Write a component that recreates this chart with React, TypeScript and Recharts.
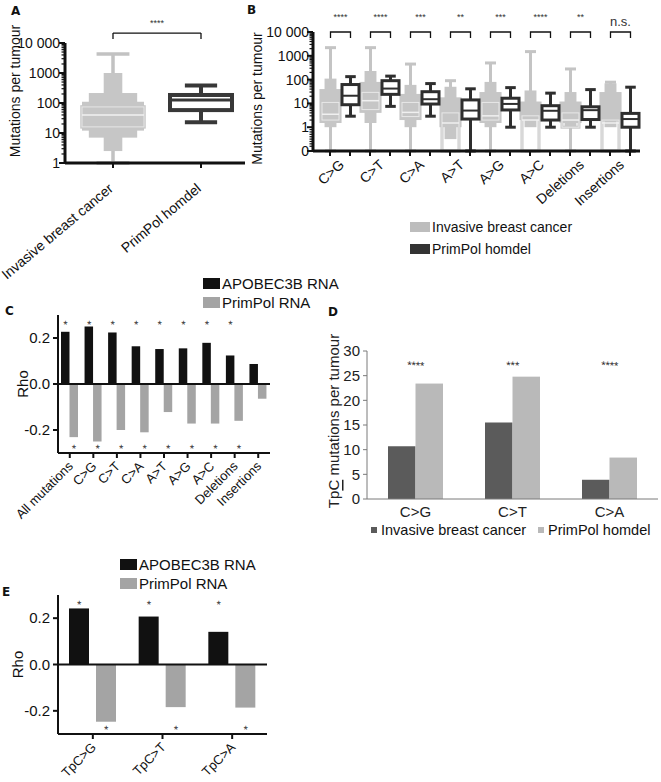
import React from 'react';
import { BarChart, ComposedChart, Bar, XAxis, YAxis, ReferenceLine, Legend } from 'recharts';

const FONT = '"Liberation Sans", Arial, Helvetica, sans-serif';
const INK = '#111111';

// ---------- A: mutations per tumour ----------
const aGroups = ['Invasive breast cancer', 'PrimPol homdel'];
const aMin = [1, 23];
const aQ1 = [16, 58];
const aMed = [40, 126];
const aQ3 = [74, 185];
const aMax = [4300, 380];
// ranges covered by the individual tumour dots (dense, mid, thin)
const aDense = [[12, 110], null];
const aMid = [[7, 215], null];
const aThin = [[2.5, 1000], null];
const aSig = '****';
const aTickLabels = ['1', '10', '100', '1000', '10 000'];

// ---------- B: per mutation type ----------
const bCats = ['C>G', 'C>T', 'C>A', 'A>T', 'A>G', 'A>C', 'Deletions', 'Insertions'];
const bSig = ['****', '****', '***', '**', '***', '****', '**', 'n.s.'];
const invMin = [0, 0, 0, 0, 0, 0, 0, 0];
const invQ1 = [2, 5.5, 2.8, 0, 2, 0, 1, 0];
const invMed = [3.5, 13, 4.2, 1.5, 3, 2, 2, 1.5];
const invQ3 = [11, 29, 11, 4, 11, 3, 4, 2];
const invMax = [2200, 2200, 450, 90, 500, 1500, 280, 78];
const invDense = [[1.5, 40], [4, 80], [2, 25], [1, 18], [1.5, 30], [2, 12], [1.5, 12], [2, 30]];
const invSparse = [[1, 110], [1.5, 230], [1, 60], [0.5, 50], [1, 80], [1, 35], [1, 30], [1, 70]];
const ppMin = [2.9, 7.5, 2.9, 0, 1, 1, 1, 0];
const ppQ1 = [8.8, 24, 9.4, 2.2, 5.3, 2, 2.1, 1];
const ppMed = [21, 42, 15, 5, 9.5, 4.9, 5.2, 2.2];
const ppQ3 = [62, 90, 31, 14, 16.5, 8, 7.2, 3.8];
const ppMax = [133, 140, 68, 41, 46, 27, 38, 48];
const bTickLabels = ['0', '1', '10', '100', '1000', '10 000'];

// ---------- C: Rho with RNA levels ----------
const cCats = ['All mutations', 'C>G', 'C>T', 'C>A', 'A>T', 'A>G', 'A>C', 'Deletions', 'Insertions'];
const cApobec = [0.227, 0.25, 0.224, 0.164, 0.152, 0.155, 0.179, 0.124, 0.087];
const cPrimpol = [-0.231, -0.25, -0.2, -0.21, -0.122, -0.172, -0.172, -0.16, -0.064];
const cApobecSig = [true, true, true, true, true, true, true, true, false];
const cPrimpolSig = [true, true, true, true, true, true, true, true, false];

// ---------- D: TpC mutations ----------
const dCats = ['C>G', 'C>T', 'C>A'];
const dInvasive = [10.7, 15.5, 3.9];
const dPrimpol = [23.4, 24.8, 8.4];
const dSig = ['****', '***', '****'];

// ---------- E: Rho for TpC ----------
const eCats = ['TpC>G', 'TpC>T', 'TpC>A'];
const eApobec = [0.242, 0.207, 0.141];
const ePrimpol = [-0.247, -0.184, -0.186];
const eApobecSig = [true, true, true];
const ePrimpolSig = [true, true, true];

// log axes (B keeps a linear stretch for 0..1)
const tA = (v: number) => Math.log10(v);
const tB = (v: number) => (v < 1 ? v : 1 + Math.log10(v));
const minorSteps = [2, 3, 4, 5, 6, 7, 8, 9];
const aTicks = [0, 1, 2, 3, 4, ...[1, 10, 100, 1000].flatMap((d) => minorSteps.map((k) => tA(k * d)))];
const bTicks = [0, 1, 2, 3, 4, 5, ...[0.1, 1, 10, 100, 1000].flatMap((d) => minorSteps.map((k) => tB(k * d)))];

type Stats = { min: number; q1: number; med: number; q3: number; max: number };
const stats = (mn: number[], q1: number[], md: number[], q3: number[], mx: number[], i: number): Stats => ({
  min: mn[i], q1: q1[i], med: md[i], q3: q3[i], max: mx[i],
});

const aData = aGroups.map((g, i) => ({
  group: g,
  range: [tA(aMin[i]), tA(aMax[i])],
  stats: stats(aMin, aQ1, aMed, aQ3, aMax, i),
  clouds: [aDense[i], aMid[i], aThin[i]],
}));

const bData = bCats.map((c, i) => ({
  cat: c,
  sig: bSig[i],
  inv: [tB(invMin[i]), tB(invMax[i])],
  pp: [tB(ppMin[i]), tB(ppMax[i])],
  invStats: stats(invMin, invQ1, invMed, invQ3, invMax, i),
  invClouds: [invDense[i], invSparse[i]],
  ppStats: stats(ppMin, ppQ1, ppMed, ppQ3, ppMax, i),
}));

const cData = cCats.map((c, i) => ({ cat: c, apobec: cApobec[i], primpol: cPrimpol[i], aSig: cApobecSig[i], pSig: cPrimpolSig[i] }));
const dData = dCats.map((c, i) => ({ cat: c, inv: dInvasive[i], pp: dPrimpol[i], sig: dSig[i] }));
const eData = eCats.map((c, i) => ({ cat: c, apobec: eApobec[i], primpol: ePrimpol[i], aSig: eApobecSig[i], pSig: ePrimpolSig[i] }));

const TS = 5;
const TM = 3;

interface Look {
  line: string; lineW: number; boxStroke: string; medStroke: string; medW: number;
  capFrac: number; cloudFill?: string; cloudFracs?: number[]; overlay?: string;
}
const A_LIGHT: Look = { line: '#c2c2c2', lineW: 3.5, boxStroke: '#c8c8c8', medStroke: '#f0f0f0', medW: 1.5, capFrac: 0.53, cloudFill: '#c6c6c6', cloudFracs: [1, 0.78, 0.3], overlay: '#e6e6e6' };
const A_DARK: Look = { line: '#383838', lineW: 4, boxStroke: '#383838', medStroke: '#383838', medW: 3, capFrac: 0.52 };
const B_LIGHT: Look = { line: '#c4c4c4', lineW: 3, boxStroke: '#c8c8c8', medStroke: '#f0f0f0', medW: 1.5, capFrac: 0.65, cloudFill: '#c6c6c6', cloudFracs: [1.3, 0.7], overlay: '#e8e8e8' };
const B_DARK: Look = { line: '#2e2e2e', lineW: 3, boxStroke: '#2e2e2e', medStroke: '#2e2e2e', medW: 2, capFrac: 0.62 };
const B_BAR = 17;
const B_GAP = 3;

function barScale(p: any, tHi: number, tLo: number) {
  const top = Math.min(p.y, p.y + p.height);
  const bot = Math.max(p.y, p.y + p.height);
  return (t: number) => top + ((bot - top) * (tHi - t)) / (tHi - tLo);
}

function boxPlot(p: any, s: Stats, clouds: (number[] | null)[], tf: (v: number) => number, look: Look) {
  const { x, width } = p;
  const yt = barScale(p, tf(s.max), tf(s.min));
  const yv = (v: number) => yt(tf(v));
  const cx = x + width / 2;
  const cap = (width * look.capFrac) / 2;
  const y3 = yv(s.q3);
  const y1 = yv(s.q1);
  return (
    <g>
      <line x1={cx} x2={cx} y1={yv(s.max)} y2={yv(s.min)} stroke={look.line} strokeWidth={look.lineW} />
      <line x1={cx - cap} x2={cx + cap} y1={yv(s.max)} y2={yv(s.max)} stroke={look.line} strokeWidth={look.lineW} />
      <line x1={cx - cap} x2={cx + cap} y1={yv(s.min)} y2={yv(s.min)} stroke={look.line} strokeWidth={look.lineW} />
      <rect x={x} y={y3} width={width} height={y1 - y3} fill="#ffffff" stroke={look.boxStroke} strokeWidth={look.lineW} />
      {clouds.map((c, k) => {
        if (!c || !look.cloudFracs) return null;
        const w = width * look.cloudFracs[k];
        return <rect key={k} x={cx - w / 2} y={yv(c[1])} width={w} height={yv(c[0]) - yv(c[1])} fill={look.cloudFill} />;
      })}
      {look.overlay ? <rect x={x} y={y3} width={width} height={y1 - y3} fill="none" stroke={look.overlay} strokeWidth={1} /> : null}
      <line x1={x} x2={x + width} y1={yv(s.med)} y2={yv(s.med)} stroke={look.medStroke} strokeWidth={look.medW} />
    </g>
  );
}

const aShape = (p: any) =>
  boxPlot(p, p.payload.stats, p.payload.clouds, tA, p.index === 0 ? A_LIGHT : A_DARK);

const bLightShape = (p: any) => boxPlot(p, p.payload.invStats, p.payload.invClouds, tB, B_LIGHT);

const bDarkShape = (p: any) => {
  const pl = p.payload;
  const yt = barScale(p, tB(pl.ppStats.max), tB(pl.ppStats.min));
  const yTop = yt(5);
  const xR = p.x + p.width / 2;
  const xL = xR - (B_BAR + B_GAP);
  const ns = pl.sig === 'n.s.';
  return (
    <g>
      {boxPlot(p, pl.ppStats, [], tB, B_DARK)}
      <path d={`M${xL},${yTop + 6} V${yTop} H${xR} V${yTop + 6}`} fill="none" stroke={INK} strokeWidth={1.3} />
      <text x={(xL + xR) / 2} y={ns ? yTop - 6 : yTop - 12} textAnchor="middle" fontSize={ns ? 13 : 9} fill="#333">
        {pl.sig}
      </text>
    </g>
  );
};

function starBar(key: string, sigKey: string, level: number, fontSize: number, atLeft = false) {
  return (p: any) => {
    const { x, y, width, height, fill, payload } = p;
    const v = payload[key];
    const top = Math.min(y, y + height);
    const h = Math.abs(height);
    const ppu = h / Math.abs(v);
    const zeroY = v >= 0 ? top + h : top;
    const sy = zeroY - Math.sign(v) * level * ppu;
    const mark = payload[sigKey];
    const label = typeof mark === 'string' ? mark : '*';
    const sx = atLeft ? x : x + width / 2;
    const ty = sy + fontSize * 0.58;
    // a slight tilt keeps the tiny glyphs in greyscale antialiasing
    return (
      <g>
        <rect x={x} y={top} width={width} height={h} fill={fill} />
        {mark ? (
          <text x={sx} y={ty} transform={`rotate(3 ${sx} ${ty})`} textAnchor="middle" fontSize={fontSize} fill="#222">
            {label}
          </text>
        ) : null}
      </g>
    );
  };
}

function logYTick(labels: string[], fontSize: number, gap: number) {
  return (p: any) => {
    const { x, y, payload } = p;
    const ax = x + TS + TM;
    const t = payload.value;
    const major = Math.abs(t - Math.round(t)) < 1e-6;
    return (
      <g>
        <line x1={ax - (major ? 6 : 3.5)} x2={ax} y1={y} y2={y} stroke={INK} strokeWidth={major ? 2 : 1.2} />
        {major ? (
          <text x={ax - gap} y={y} dy="0.36em" textAnchor="end" fontSize={fontSize} fill={INK}>
            {labels[Math.round(t)]}
          </text>
        ) : null}
      </g>
    );
  };
}

function rotTick(fontSize: number, dx: number, dy: number, angle = 45, pairOffset = 0) {
  return (p: any) => {
    const { x, y, payload } = p;
    const tx = x + dx;
    const ty = y + dy;
    const axY = y - TS - TM;
    return (
      <g>
        {pairOffset
          ? [-pairOffset, pairOffset].map((o) => (
              <line key={o} x1={x + o} x2={x + o} y1={axY} y2={axY + TS} stroke={INK} strokeWidth={2} />
            ))
          : null}
        <text x={tx} y={ty} transform={`rotate(${-angle} ${tx} ${ty})`} textAnchor="end" fontSize={fontSize} fill={INK}>
          {payload.value}
        </text>
      </g>
    );
  };
}

function yLabel(text: React.ReactNode, dx: number, dy: number, fontSize: number, fill = INK) {
  return (props: any) => {
    const vb = props.viewBox || {};
    const cx = (vb.x || 0) + dx;
    const cy = (vb.y || 0) + (vb.height || 0) / 2 + dy;
    return (
      <text x={cx} y={cy} transform={`rotate(-90 ${cx} ${cy})`} textAnchor="middle" dominantBaseline="central" fontSize={fontSize} fill={fill}>
        {text}
      </text>
    );
  };
}

function SwatchLegend({ payload, sw, sh, row, fontSize, gap, horizontal, spacing }: any) {
  return (
    <div style={{ display: 'flex', flexDirection: horizontal ? 'row' : 'column', fontFamily: FONT, fontSize, color: INK, whiteSpace: 'nowrap' }}>
      {(payload || []).map((e: any) => (
        <div key={e.value} style={{ display: 'flex', alignItems: 'center', height: row, marginRight: horizontal ? spacing : 0 }}>
          <span style={{ display: 'inline-block', width: sw, height: sh, background: e.color, marginRight: gap }} />
          <span>{e.value}</span>
        </div>
      ))}
    </div>
  );
}

function Letter({ ch, left, top }: { ch: string; left: number; top: number }) {
  return (
    <div style={{ position: 'absolute', left, top, fontFamily: '"DejaVu Sans", sans-serif', fontWeight: 700, fontSize: 12, lineHeight: 1, color: INK }}>
      {ch}
    </div>
  );
}

const axis2 = { stroke: INK, strokeWidth: 2 };
const axis3 = { stroke: INK, strokeWidth: 3 };

function PanelA() {
  const A_BRACKET = 4.33;
  const A_LEG = 4.13;
  return (
    <ComposedChart width={250} height={300} data={aData} margin={{ top: 43, right: 5, bottom: 0, left: 0 }}>
      <XAxis dataKey="group" interval={0} height={137} padding={{ left: 4, right: 0 }} axisLine={axis3} tickLine={axis2} tickSize={TS} tickMargin={TM} tick={rotTick(14, 1, 19, 40)} />
      <YAxis type="number" domain={[0, 4]} ticks={aTicks} interval={0} width={65} axisLine={axis3} tickLine={false} tickSize={TS} tickMargin={TM} tick={logYTick(aTickLabels, 14, 5)} label={yLabel('Mutations per tumour', 15, -12, 14)} />
      <Bar dataKey="range" barSize={62} isAnimationActive={false} shape={aShape} />
      <ReferenceLine segment={[{ x: aGroups[0], y: A_BRACKET }, { x: aGroups[1], y: A_BRACKET }]} stroke={INK} strokeWidth={1.3} ifOverflow="visible" label={{ value: aSig, position: 'top', fontSize: 9, fill: '#333', offset: 7 }} />
      <ReferenceLine segment={[{ x: aGroups[0], y: A_BRACKET }, { x: aGroups[0], y: A_LEG }]} stroke={INK} strokeWidth={1.3} ifOverflow="visible" />
      <ReferenceLine segment={[{ x: aGroups[1], y: A_BRACKET }, { x: aGroups[1], y: A_LEG }]} stroke={INK} strokeWidth={1.3} ifOverflow="visible" />
    </ComposedChart>
  );
}

function PanelB() {
  return (
    <ComposedChart width={431} height={262} data={bData} barSize={B_BAR} barGap={B_GAP} margin={{ top: 32, right: 21, bottom: 0, left: 0 }}>
      <XAxis dataKey="cat" interval={0} height={111} padding={{ left: 7, right: 0 }} axisLine={axis3} tickLine={false} tickSize={TS} tickMargin={TM} tick={rotTick(14, 5, 7, 42, (B_BAR + B_GAP) / 2)} />
      <YAxis type="number" domain={[0, 5]} ticks={bTicks} interval={0} width={83} axisLine={axis3} tickLine={false} tickSize={TS} tickMargin={TM} tick={logYTick(bTickLabels, 14, 4)} label={yLabel('Mutations per tumour', 27, 7, 14)} />
      <Bar dataKey="inv" name="Invasive breast cancer" fill="#bdbdbd" isAnimationActive={false} shape={bLightShape} />
      <Bar dataKey="pp" name="PrimPol homdel" fill="#333333" isAnimationActive={false} shape={bDarkShape} />
      <Legend layout="vertical" align="center" verticalAlign="middle" wrapperStyle={{ left: 180, top: 216, width: 220 }} content={(p: any) => <SwatchLegend {...p} sw={20} sh={10} row={22} fontSize={14} gap={2} />} />
    </ComposedChart>
  );
}

function RhoChart({ data, width, height, top, right, xHeight, barSize, barGap, level, legendPos, labelDx }: any) {
  return (
    <BarChart width={width} height={height} data={data} barSize={barSize} barGap={barGap} margin={{ top, right, bottom: 0, left: 0 }}>
      <XAxis dataKey="cat" interval={0} height={xHeight} axisLine={axis2} tickLine={axis2} tickSize={TS} tickMargin={TM} tick={rotTick(13, 4, 6)} />
      <YAxis type="number" domain={[-0.3, 0.3]} ticks={[-0.2, 0, 0.2]} interval={0} width={58} axisLine={axis2} tickLine={axis2} tickSize={TS} tickMargin={TM} tickFormatter={(v: number) => v.toFixed(1)} tick={{ fontSize: 15, fill: INK }} label={yLabel('Rho', labelDx, 0, 15)} />
      <ReferenceLine y={0} stroke={INK} strokeWidth={2} />
      <Bar dataKey="apobec" name="APOBEC3B RNA" fill="#111111" isAnimationActive={false} shape={starBar('apobec', 'aSig', level, 11)} />
      <Bar dataKey="primpol" name="PrimPol RNA" fill="#a4a4a4" isAnimationActive={false} shape={starBar('primpol', 'pSig', level, 11)} />
      <Legend layout="vertical" align="center" verticalAlign="middle" wrapperStyle={{ left: legendPos[0], top: legendPos[1], width: 160 }} content={(p: any) => <SwatchLegend {...p} sw={17} sh={11} row={19} fontSize={15} gap={2} />} />
    </BarChart>
  );
}

function PanelD() {
  const yTitle = (
    <>
      <tspan>Tp</tspan>
      <tspan style={{ textDecoration: 'underline' }}>C</tspan>
      <tspan> mutations per tumour</tspan>
    </>
  );
  return (
    <BarChart width={341} height={240} data={dData} barSize={27.5} barGap={0} margin={{ top: 51, right: 3, bottom: 0, left: 0 }}>
      <XAxis dataKey="cat" interval={0} height={41} axisLine={{ stroke: '#7a7a7a' }} tickLine={false} tick={{ fontSize: 15, fill: '#222' }} tickMargin={1} />
      <YAxis type="number" domain={[0, 30]} ticks={[0, 5, 10, 15, 20, 25, 30]} interval={0} width={47} axisLine={{ stroke: '#7a7a7a' }} tickLine={{ stroke: '#7a7a7a' }} tickSize={4} tickMargin={3} tick={{ fontSize: 15, fill: '#222' }} label={yLabel(yTitle, 13, -4, 15, '#222')} />
      <Bar dataKey="inv" name="Invasive breast cancer" fill="#5b5b5b" isAnimationActive={false} />
      <Bar dataKey="pp" name="PrimPol homdel" fill="#b9b9b9" isAnimationActive={false} shape={starBar('pp', 'sig', 27.6, 11, true)} />
      <Legend layout="vertical" align="center" verticalAlign="middle" wrapperStyle={{ left: 51, top: 220, width: 300 }} content={(p: any) => <SwatchLegend {...p} horizontal spacing={12} sw={6} sh={6} row={20} fontSize={14.5} gap={4} />} />
    </BarChart>
  );
}

export default function App() {
  return (
    <div style={{ position: 'absolute', left: 0, top: 0, width: 661, height: 782, background: '#ffffff', fontFamily: FONT, overflow: 'hidden' }}>
      <div style={{ position: 'absolute', left: 0, top: 0 }}>
        <PanelA />
      </div>
      <div style={{ position: 'absolute', left: 230, top: 0 }}>
        <PanelB />
      </div>
      <div style={{ position: 'absolute', left: 0, top: 260 }}>
        <RhoChart data={cData} width={280} height={290} top={55} right={10} xHeight={97} barSize={8.5} barGap={0} level={0.27} legendPos={[203, 14]} labelDx={22} />
      </div>
      <div style={{ position: 'absolute', left: 320, top: 300 }}>
        <PanelD />
      </div>
      <div style={{ position: 'absolute', left: 0, top: 540 }}>
        <RhoChart data={eData} width={280} height={242} top={55} right={13} xHeight={48} barSize={20} barGap={7} level={0.27} legendPos={[120, 15]} labelDx={17} />
      </div>
      <Letter ch="A" left={11} top={5} />
      <Letter ch="B" left={247} top={4} />
      <Letter ch="C" left={5} top={305} />
      <Letter ch="D" left={328} top={306} />
      <Letter ch="E" left={2} top={586} />
    </div>
  );
}
